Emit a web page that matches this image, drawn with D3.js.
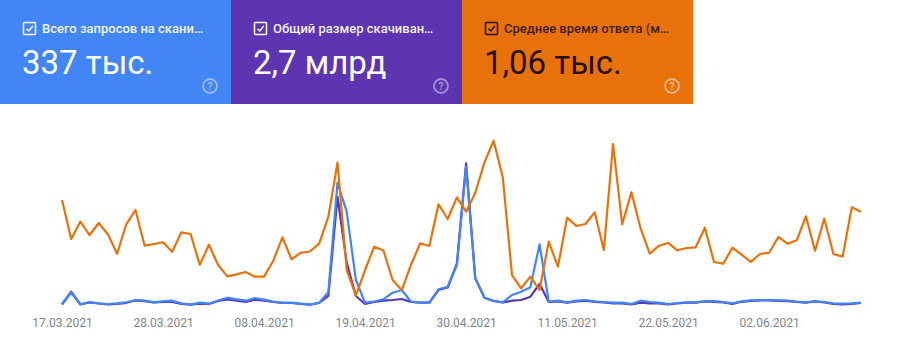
<!DOCTYPE html>
<html>
<head>
<meta charset="utf-8">
<script src="https://cdn.jsdelivr.net/npm/d3@7"></script>
<style>
  body { margin: 0; background: #fff; font-family: Roboto, "Noto Sans", sans-serif; }
  #chart { width: 907px; height: 354px; }
</style>
</head>
<body>
<div id="chart"></div>
<script>
// daily values, 17.03.2021 .. 12.06.2021
const startDate = "2021-03-17";

const requests = [
    1220, 6464, 1220, 2260, 1672, 1356, 1672, 2124, 3164, 2848,
    2124, 2576, 2848, 1672, 1040, 1944, 1492, 2938, 4204, 3480,
    2848, 4068, 3300, 2396, 1944, 1944, 1492, 1040, 1944, 6644,
    56274, 43076, 12204, 1944, 2486, 3480, 6464, 7684, 2396, 1944,
    1944, 8000, 9176, 18984, 63416, 12972, 4204, 2712, 2124, 5424,
    6916, 8904, 28340, 2396, 2848, 2124, 2848, 3164, 2576, 2260,
    1944, 1944, 1356, 2848, 2260, 1944, 1356, 1808, 2124, 2124,
    2712, 2622, 2260, 1672, 2576, 3028, 3164, 3164, 3028, 2848,
    2396, 2124, 2712, 2260, 1672, 1492, 1672, 1944
];

// MB
const downloadSize = [
    9.2, 56.2, 9.2, 16.5, 12.8, 9.9, 11.7, 15.4, 23.9, 21.3,
    16.5, 19.1, 18.4, 11.7, 8.4, 12.1, 11.0, 22.0, 28.3, 23.1,
    18.4, 26.8, 23.1, 18.4, 14.7, 14.7, 11.0, 8.4, 14.7, 40.4,
    404.8, 163.3, 40.4, 11.0, 18.4, 23.1, 25.7, 29.4, 18.4, 15.8,
    15.8, 62.4, 71.6, 160.4, 527.4, 105.3, 34.1, 22.0, 17.2, 23.1,
    25.7, 37.8, 84.4, 18.4, 20.2, 15.8, 20.2, 23.1, 18.4, 16.5,
    13.6, 13.6, 9.9, 15.8, 13.6, 13.6, 9.9, 12.8, 15.8, 15.8,
    20.2, 19.1, 16.5, 11.7, 19.1, 22.8, 23.9, 23.9, 22.8, 21.3,
    18.4, 15.8, 20.2, 16.5, 11.0, 9.9, 11.7, 14.7
];

// ms
const responseTime = [
    1814, 1153, 1446, 1220, 1424, 1232, 903, 1402, 1644, 1039,
    1068, 1097, 937, 1266, 1237, 717, 1056, 712, 520, 554,
    593, 514, 514, 780, 1181, 809, 920, 941, 1073, 1526,
    2446, 627, 195, 627, 1022, 958, 458, 288, 712, 1080,
    1034, 1741, 1492, 1859, 1615, 1937, 2449, 2819, 2195, 542,
    317, 514, 288, 1107, 683, 1514, 1373, 1407, 1605, 966,
    2763, 1402, 1944, 1334, 903, 1039, 1085, 961, 1000, 1012,
    1344, 763, 734, 1005, 886, 763, 898, 920, 1187, 1073,
    1131, 1537, 954, 1497, 898, 853, 1690, 1615
];

const tickLabels = ["17.03.2021", "28.03.2021", "08.04.2021", "19.04.2021",
    "30.04.2021", "11.05.2021", "22.05.2021", "02.06.2021"];

const cards = [
    { label: "Всего запросов на скани…", value: "337 тыс.", bg: "#4285f4", fg: "#fff", sub: "rgba(255,255,255,0.95)", help: "rgba(255,255,255,0.45)" },
    { label: "Общий размер скачиван…", value: "2,7 млрд", bg: "#5e35b1", fg: "#fff", sub: "rgba(255,255,255,0.95)", help: "rgba(255,255,255,0.45)" },
    { label: "Среднее время ответа (м…", value: "1,06 тыс.", bg: "#e8710a", fg: "rgba(0,0,0,0.87)", sub: "rgba(0,0,0,0.75)", help: "rgba(255,255,255,0.5)" }
];

const W = 907, H = 354;
const cardW = 231, cardH = 104;
const margin = { top: 130, left: 62, right: 46, bottom: 47 };

const parse = d3.timeParse("%Y-%m-%d");
const fmt = d3.timeFormat("%d.%m.%Y");
const t0 = parse(startDate);
const dates = requests.map((_, i) => d3.timeDay.offset(t0, i));

const svg = d3.select("#chart").append("svg")
    .attr("width", W)
    .attr("height", H)
    .style("font-family", "Roboto, sans-serif");

// --- metric cards
const card = svg.selectAll(".card")
    .data(cards)
    .enter()
    .append("g")
    .attr("transform", (d, i) => `translate(${i * cardW}, 0)`);

card.append("rect")
    .attr("width", cardW)
    .attr("height", cardH)
    .attr("fill", d => d.bg);

card.append("rect")
    .attr("x", 23.5)
    .attr("y", 22.5)
    .attr("width", 12)
    .attr("height", 12)
    .attr("rx", 1)
    .attr("fill", "none")
    .attr("stroke", d => d.fg)
    .attr("stroke-width", 1.5);

card.append("path")
    .attr("d", "M26.5,28.8 L28.8,31 L32.8,26")
    .attr("fill", "none")
    .attr("stroke", d => d.fg)
    .attr("stroke-width", 1.5);

card.append("text")
    .attr("x", 42)
    .attr("y", 33)
    .style("font-size", "13px")
    .style("font-weight", "500")
    .attr("fill", d => d.sub)
    .text(d => d.label);

card.append("text")
    .attr("x", 22)
    .attr("y", 74)
    .style("font-size", "33px")
    .attr("fill", d => d.fg)
    .text(d => d.value);

card.append("circle")
    .attr("cx", 210)
    .attr("cy", 86)
    .attr("r", 7)
    .attr("fill", "none")
    .attr("stroke", d => d.help)
    .attr("stroke-width", 1.8);

card.append("text")
    .attr("x", 210)
    .attr("y", 90)
    .attr("text-anchor", "middle")
    .style("font-size", "11px")
    .style("font-weight", "700")
    .attr("fill", d => d.help)
    .text("?");

// --- chart
const x = d3.scaleTime()
    .domain([dates[0], dates[dates.length - 1]])
    .range([margin.left, W - margin.right]);

const y0 = H - margin.bottom;
const yReq = d3.scaleLinear().domain([0, 80000]).range([y0, margin.top]);
const ySize = d3.scaleLinear().domain([0, 650]).range([y0, margin.top]);
const yTime = d3.scaleLinear().domain([0, 3000]).range([y0, margin.top]);

const series = [
    { values: downloadSize, y: ySize, color: "#5e35b1" },
    { values: requests, y: yReq, color: "#4285f4" },
    { values: responseTime, y: yTime, color: "#e8710a" }
];

series.forEach(s => {
    const line = d3.line()
        .x((d, i) => x(dates[i]))
        .y(d => s.y(d));
    svg.append("path")
        .datum(s.values)
        .attr("d", line)
        .attr("fill", "none")
        .attr("stroke", s.color)
        .attr("stroke-width", 2.2)
        .attr("stroke-linejoin", "round");
});

// x axis
const axis = svg.append("g")
    .attr("transform", `translate(0, ${y0 + 8})`)
    .call(d3.axisBottom(x)
        .tickValues(tickLabels.map(s => d3.timeParse("%d.%m.%Y")(s)))
        .tickFormat(fmt)
        .tickSize(0));

axis.select(".domain").remove();
axis.selectAll("text")
    .style("font-size", "12px")
    .style("font-family", "Roboto, sans-serif")
    .attr("fill", "#80868b");
</script>
</body>
</html>
